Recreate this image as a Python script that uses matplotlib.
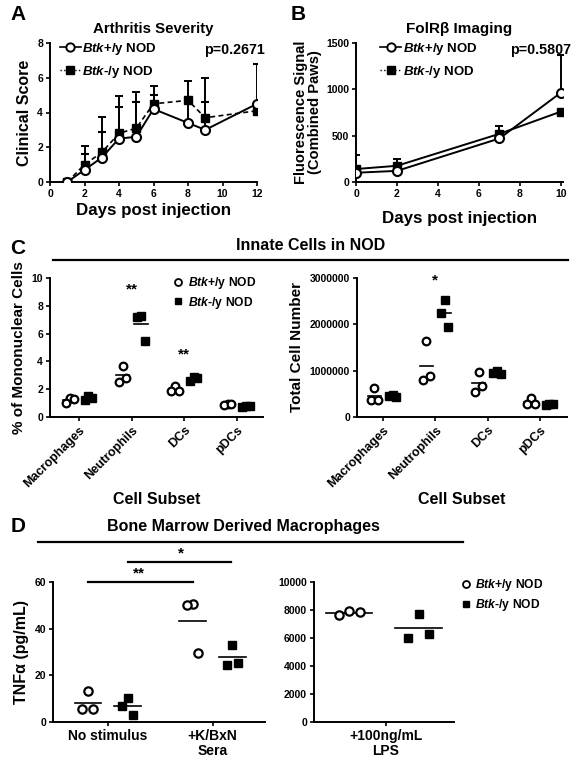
import matplotlib
matplotlib.use("Agg")
import matplotlib.pyplot as plt
from matplotlib.lines import Line2D
import numpy as np

plt.rcParams['font.family'] = ['Liberation Sans', 'DejaVu Sans']
plt.rcParams['font.weight'] = 'bold'
plt.rcParams['axes.labelweight'] = 'bold'
plt.rcParams['axes.titleweight'] = 'bold'
plt.rcParams['mathtext.fontset'] = 'custom'
plt.rcParams['mathtext.it'] = 'Liberation Sans:italic:bold'
plt.rcParams['mathtext.rm'] = 'Liberation Sans:bold'

WT = r"$\it{Btk}$+/y NOD"
KO = r"$\it{Btk}$-/y NOD"

# ---- panel A: arthritis severity
daysA = [1, 2, 3, 4, 5, 6, 8, 9, 12]
scoreWT = [0, 0.7, 1.4, 2.5, 2.6, 4.2, 3.4, 3.0, 4.5]
errWT = [0, 0.9, 1.5, 1.8, 2.0, 0.8, 1.2, 1.6, 2.3]
scoreKO = [0, 1.0, 1.7, 2.8, 3.1, 4.5, 4.7, 3.7, 4.1]
errKO = [0, 1.1, 2.05, 2.15, 2.1, 1.0, 1.1, 2.3, 0]

# ---- panel B: FolR beta imaging
daysB = [0, 2, 7, 10]
sigWT = [100, 120, 470, 965]
sigErrWT = [0, 0, 0, 410]
sigKO = [140, 175, 520, 760]
sigErrKO = [150, 75, 85, 30]

# ---- panel C: innate cells
cells = ["Macrophages", "Neutrophils", "DCs", "pDCs"]
pctWT = [[1.4, 1.0, 1.3], [3.7, 2.5, 2.8], [2.2, 1.9, 1.85], [0.9, 0.85, 0.9]]
pctKO = [[1.5, 1.2, 1.4], [7.3, 7.2, 5.5], [2.9, 2.6, 2.8], [0.8, 0.75, 0.8]]
numWT = [[620000, 370000, 370000], [1630000, 800000, 880000],
         [980000, 530000, 660000], [420000, 280000, 280000]]
numKO = [[480000, 450000, 430000], [2530000, 2250000, 1950000],
         [1000000, 950000, 930000], [290000, 260000, 270000]]

# ---- panel D: BMDM TNFa
condL = ["No stimulus", "+K/BxN\nSera"]
tnfWT = [[13.5, 5.5, 5.5], [50.5, 50, 29.5]]
tnfKO = [[10.5, 7, 3], [33, 24.5, 25.5]]
condR = ["+100ng/mL\nLPS"]
lpsWT = [[7950, 7650, 7850]]
lpsKO = [[7750, 6000, 6300]]

fig = plt.figure(figsize=(5.8, 7.7), dpi=100)


def style(ax):
    for s in ['top', 'right']:
        ax.spines[s].set_visible(False)
    for s in ['left', 'bottom']:
        ax.spines[s].set_linewidth(1.4)
    ax.tick_params(width=1.2, length=3, labelsize=7.5, pad=2)


def fpos(x0, y0, x1, y1):
    return [x0 / 580, 1 - y1 / 770, (x1 - x0) / 580, (y1 - y0) / 770]


def dots(ax, wt, ko, offW, offK, jit, mw, ms=6):
    for i in range(len(wt)):
        xw = i + offW + np.array(jit)
        xk = i + offK + np.array(jit)
        ax.plot(xw, wt[i], 'o', mfc='white', mec='black', mew=1.6, ms=ms,
                ls='none', clip_on=False, zorder=3)
        ax.plot(xk, ko[i], 's', color='black', ms=ms, ls='none',
                clip_on=False, zorder=3)
        ax.plot([i + offW - mw / 2, i + offW + mw / 2], [np.mean(wt[i])] * 2,
                color='black', lw=1.2, zorder=2)
        ax.plot([i + offK - mw / 2, i + offK + mw / 2], [np.mean(ko[i])] * 2,
                color='black', lw=1.2, zorder=2)


# A
axA = fig.add_axes(fpos(50, 43, 257, 182))
axA.errorbar(daysA, scoreWT, yerr=[np.zeros(len(errWT)), errWT], color='black',
             lw=1.4, marker='o', mfc='white', mec='black', mew=1.5, ms=6.5,
             capsize=3, elinewidth=1.4, capthick=1.4, zorder=3)
axA.errorbar(daysA, scoreKO, yerr=[np.zeros(len(errKO)), errKO], color='black',
             lw=1.2, ls=(0, (3, 2)), marker='s', ms=6, capsize=3,
             elinewidth=1.4, capthick=1.4, zorder=2)
axA.set_xlim(0, 12)
axA.set_ylim(0, 8)
axA.set_xticks(range(0, 13, 2))
axA.set_yticks(range(0, 9, 2))
style(axA)
axA.set_ylabel("Clinical Score", fontsize=11.5, labelpad=4)
axA.set_xlabel("Days post injection", fontsize=12.2, labelpad=3)
axA.set_title("Arthritis Severity", fontsize=10.8, pad=7)
axA.text(1.04, 1.0, "p=0.2671", transform=axA.transAxes, ha='right', va='top', fontsize=10.3)
hA = [Line2D([], [], color='black', lw=1.2, marker='o', mfc='white', mew=1.4, ms=6),
      Line2D([], [], color='black', lw=1.0, ls=':', marker='s', ms=5.5)]
axA.legend(hA, [WT, KO], loc='upper left', bbox_to_anchor=(-0.01, 1.1), frameon=False,
           fontsize=9.5, handlelength=1.6, handletextpad=0.1, labelspacing=0.5)

# B
axB = fig.add_axes(fpos(356, 43, 563, 182))
axB.errorbar(daysB, sigWT, yerr=[np.zeros(len(sigErrWT)), sigErrWT], color='black',
             lw=1.4, marker='o', mfc='white', mec='black', mew=1.5, ms=6.5,
             capsize=3, elinewidth=1.4, capthick=1.4, zorder=3)
axB.errorbar(daysB, sigKO, yerr=[np.zeros(len(sigErrKO)), sigErrKO], color='black',
             lw=1.4, marker='s', ms=6, capsize=3, elinewidth=1.4, capthick=1.4, zorder=2)
axB.set_xlim(0, 10.1)
axB.set_ylim(0, 1500)
axB.set_xticks(range(0, 11, 2))
axB.set_yticks([0, 500, 1000, 1500])
style(axB)
axB.set_ylabel("Fluorescence Signal\n(Combined Paws)", fontsize=10.6, labelpad=3, linespacing=1.0)
axB.set_xlabel("Days post injection", fontsize=12.2, labelpad=9)
axB.set_title("FolRβ Imaging", fontsize=11, pad=7)
axB.text(1.04, 1.0, "p=0.5807", transform=axB.transAxes, ha='right', va='top', fontsize=10.3)
axB.legend(hA, [WT, KO], loc='upper left', bbox_to_anchor=(0.06, 1.1), frameon=False,
           fontsize=9.5, handlelength=1.6, handletextpad=0.1, labelspacing=0.5)

# C left
axC1 = fig.add_axes(fpos(50, 278, 263, 417))
dots(axC1, pctWT, pctKO, -0.17, 0.18, [0.0, -0.07, 0.07], 0.25, ms=5.5)
axC1.set_xlim(-0.55, 3.5)
axC1.set_ylim(0, 10)
axC1.set_yticks(range(0, 11, 2))
axC1.set_xticks(range(len(cells)))
style(axC1)
axC1.set_xticklabels(cells, rotation=45, ha='right', rotation_mode='anchor', fontsize=9)
axC1.set_ylabel("% of Mononuclear Cells", fontsize=11, labelpad=4)
axC1.set_xlabel("Cell Subset", fontsize=11.5, labelpad=2)
axC1.text(1, 9.2, "**", ha='center', va='center', fontsize=11)
axC1.text(2, 4.5, "**", ha='center', va='center', fontsize=11)
hC = [Line2D([], [], ls='none', marker='o', mfc='white', mec='black', mew=1.3, ms=5),
      Line2D([], [], ls='none', marker='s', color='black', ms=4.5)]
axC1.legend(hC, [WT, KO], loc='upper right', bbox_to_anchor=(1.02, 1.1), frameon=False,
            fontsize=8.7, handlelength=0.8, handletextpad=0.4, labelspacing=0.3)

# C right
axC2 = fig.add_axes(fpos(357, 278, 567, 417))
dots(axC2, numWT, numKO, -0.17, 0.18, [0.0, -0.07, 0.07], 0.25, ms=5.5)
axC2.set_xlim(-0.5, 3.52)
axC2.set_ylim(0, 3000000)
axC2.set_yticks([0, 1000000, 2000000, 3000000])
axC2.set_yticklabels(["0", "1000000", "2000000", "3000000"])
axC2.set_xticks(range(len(cells)))
style(axC2)
axC2.set_xticklabels(cells, rotation=45, ha='right', rotation_mode='anchor', fontsize=9)
axC2.set_ylabel("Total Cell Number", fontsize=11, labelpad=4)
axC2.set_xlabel("Cell Subset", fontsize=11.5, labelpad=2)
axC2.text(1, 2950000, "*", ha='center', va='center', fontsize=11)

# D left
axD1 = fig.add_axes(fpos(53, 582, 265, 722))
dots(axD1, tnfWT, tnfKO, -0.19, 0.19, [0.0, -0.05, 0.05], 0.25, ms=6)
axD1.set_xlim(-0.52, 1.5)
axD1.set_ylim(0, 60)
axD1.set_yticks([0, 20, 40, 60])
axD1.set_xticks(range(len(condL)))
style(axD1)
axD1.set_xticklabels(condL, fontsize=10, linespacing=1.1)
axD1.set_ylabel("TNFα (pg/mL)", fontsize=11.5, labelpad=4)
axD1.plot([-0.19, 0.81], [60, 60], color='black', lw=1.6, clip_on=False)
axD1.text(0.3, 60.8, "**", ha='center', va='bottom', fontsize=11)
axD1.plot([0.19, 1.18], [68.6, 68.6], color='black', lw=1.6, clip_on=False)
axD1.text(0.7, 69.2, "*", ha='center', va='bottom', fontsize=11)

# D right
axD2 = fig.add_axes(fpos(314, 582, 454, 722))
dots(axD2, lpsWT, lpsKO, -0.35, 0.31, [0.0, -0.1, 0.1], 0.44, ms=6)
axD2.set_xlim(-0.686, 0.648)
axD2.set_ylim(0, 10000)
axD2.set_yticks(range(0, 10001, 2000))
axD2.set_xticks(range(len(condR)))
style(axD2)
axD2.set_xticklabels(condR, fontsize=10, linespacing=1.1)
axD2.legend(hC, [WT, KO], loc='upper left', bbox_to_anchor=(0.97, 1.11), frameon=False,
            fontsize=8.7, handlelength=0.8, handletextpad=0.4, labelspacing=0.3)

# section headers, rules and panel letters
fig.text(311 / 580, 1 - 245 / 770, "Innate Cells in NOD", ha='center', va='center',
         fontsize=11.5, fontweight='bold')
fig.add_artist(Line2D([53 / 580, 568 / 580], [1 - 260 / 770] * 2, color='black', lw=1.6))
fig.text(243 / 580, 1 - 527 / 770, "Bone Marrow Derived Macrophages", ha='center', va='center',
         fontsize=11.5, fontweight='bold')
fig.add_artist(Line2D([38 / 580, 463 / 580], [1 - 542 / 770] * 2, color='black', lw=1.6))
for lab, x, y in [("A", 18, 15), ("B", 298, 15), ("C", 18, 248), ("D", 18, 527)]:
    fig.text(x / 580, 1 - y / 770, lab, ha='center', va='center', fontsize=15, fontweight='bold')

fig.savefig("out.png", dpi=100)
